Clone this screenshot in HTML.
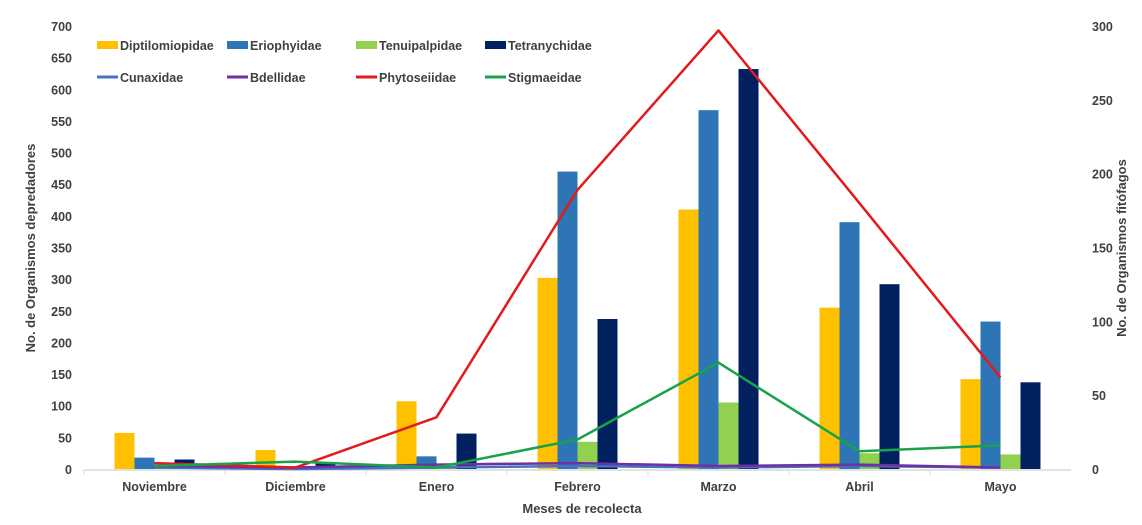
<!DOCTYPE html>
<html><head><meta charset="utf-8">
<style>
body{margin:0;background:#fff;}
svg text{font-family:"Liberation Sans",sans-serif;fill:#404040;font-weight:bold;}
</style></head>
<body>
<svg id="chart" width="1142" height="520" xmlns="http://www.w3.org/2000/svg">
<g id="axes"></g><g id="bars"></g><g id="lines"></g><g id="legend"></g>
</svg>
<script>
const categories=["Noviembre","Diciembre","Enero","Febrero","Marzo","Abril","Mayo"];
const diptilomiopidae=[57,30,107,302,410,255,142];
const eriophyidae=[18,2,20,470,567,390,233];
const tenuipalpidae=[3,2,3,43,105,25,23];
const tetranychidae=[15,10,56,237,632,292,137];
const cunaxidae=[1,0,1,2,1,2,1];
const bdellidae=[2,1,3,4,2,3,1];
const phytoseiidae=[4,1,35,189,297,180,62];
const stigmaeidae=[2,5,1,20,72,12,16];
const leftTicks=[0,50,100,150,200,250,300,350,400,450,500,550,600,650,700];
const rightTicks=[0,50,100,150,200,250,300];

const NS="http://www.w3.org/2000/svg";
const x0=84,catW=141,y0=469,yTop=26;
const yL=v=>y0-(v/700)*(y0-yTop);
const yR=v=>y0-(v/300)*(y0-yTop);
const cx=i=>x0+catW*(i+0.5);
function mk(tag,attrs,parent,txt){const e=document.createElementNS(NS,tag);for(const k in attrs)e.setAttribute(k,attrs[k]);if(txt!==undefined)e.textContent=txt;parent.appendChild(e);return e;}
const axes=document.getElementById('axes'),barsG=document.getElementById('bars'),linesG=document.getElementById('lines'),legG=document.getElementById('legend');

leftTicks.forEach(t=>{const e=mk('text',{x:72,y:yL(t)+5,'text-anchor':'end','font-size':12.5},axes,t);

});
rightTicks.forEach(t=>{const e=mk('text',{x:1092,y:yR(t)+5,'text-anchor':'start','font-size':12.5},axes,t);

});
const ax=mk('line',{x1:x0,y1:y0+1,x2:x0+catW*7,y2:y0+1,stroke:'#d9d9d9','stroke-width':1.5},axes);


categories.forEach((c,i)=>{const e=mk('text',{x:cx(i),y:491,'text-anchor':'middle','font-size':12.5},axes,c);


const tk=mk('line',{x1:x0+catW*i,y1:y0+1,x2:x0+catW*i,y2:y0+6,stroke:'#d9d9d9'},axes);

});
let t=mk('text',{x:582,y:513,'text-anchor':'middle','font-size':13},axes,'Meses de recolecta');


t=mk('text',{x:0,y:0,'text-anchor':'middle','font-size':13,transform:'translate(35,248) rotate(-90)'},axes,'No. de  Organismos depredadores');


t=mk('text',{x:0,y:0,'text-anchor':'middle','font-size':13,transform:'translate(1126,248) rotate(-90)'},axes,'No. de  Organismos fitófagos');



const barSeries=[["diptilomiopidae",diptilomiopidae,"#ffc000"],["eriophyidae",eriophyidae,"#2e75b6"],["tenuipalpidae",tenuipalpidae,"#92d050"],["tetranychidae",tetranychidae,"#002060"]];
const bw=20;
barSeries.forEach((s,si)=>{s[1].forEach((v,i)=>{const x=cx(i)-40+si*bw;
const r=mk('rect',{x:x,y:yL(v),width:bw,height:y0-yL(v),fill:s[2]},barsG);

});});

const lineSeries=[["cunaxidae",cunaxidae,"#4472c4"],["bdellidae",bdellidae,"#7030a0"],["phytoseiidae",phytoseiidae,"#e31a1c"],["stigmaeidae",stigmaeidae,"#16a34a"]];
lineSeries.forEach(s=>{const pts=s[1].map((v,i)=>cx(i)+','+yR(v)).join(' ');
const p=mk('polyline',{points:pts,fill:'none',stroke:s[2],'stroke-width':2.5,'stroke-linejoin':'round'},linesG);

});

const legItems=[["Diptilomiopidae","#ffc000",97,45,1],["Eriophyidae","#2e75b6",227,45,1],["Tenuipalpidae","#92d050",356,45,1],["Tetranychidae","#002060",485,45,1],
["Cunaxidae","#4472c4",97,77,0],["Bdellidae","#7030a0",227,77,0],["Phytoseiidae","#e31a1c",356,77,0],["Stigmaeidae","#16a34a",485,77,0]];
legItems.forEach(l=>{const g=mk('g',{},legG);


if(l[4])mk('rect',{x:l[2],y:l[3]-4,width:21,height:8,fill:l[1]},g);
else mk('line',{x1:l[2],y1:l[3],x2:l[2]+21,y2:l[3],stroke:l[1],'stroke-width':3},g);
mk('text',{x:l[2]+23,y:l[3]+5,'font-size':12.5},g,l[0]);});
</script>
</body></html>
